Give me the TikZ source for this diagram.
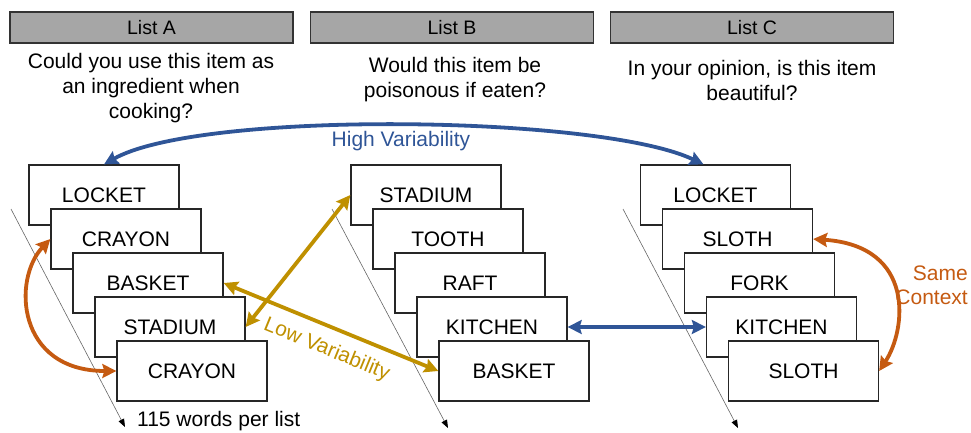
\documentclass[tikz,border=0pt]{standalone}
\usepackage{fontspec}
\setmainfont{Liberation Sans}
\usetikzlibrary{arrows.meta,positioning}
\definecolor{highvar}{RGB}{47,85,151}
\definecolor{lowvar}{RGB}{191,144,0}
\definecolor{samectx}{RGB}{197,90,17}
\definecolor{headgray}{RGB}{166,166,166}

\tikzset{
  listhead/.style={draw=black!80, line width=1.2pt, fill=headgray, minimum width=283pt,
    minimum height=31pt, inner sep=0pt, font=\fontsize{19.5}{22}\selectfont},
  question/.style={align=center, inner sep=0pt, font=\fontsize{21}{25}\selectfont},
  card/.style={draw=black!85, line width=1.3pt, fill=white, minimum width=150pt,
    minimum height=60pt, inner sep=0pt, font=\fontsize{21}{25}\selectfont},
  timeline/.style={draw=black!60, line width=0.6pt, -{Triangle[length=8pt,width=6pt,black]}},
  link/.style={line width=3.8pt, {Stealth[length=14pt,width=14pt,inset=2pt]}-{Stealth[length=14pt,width=14pt,inset=2pt]}},
  tag/.style={inner sep=0pt, font=\fontsize{21}{24}\selectfont}
}

\begin{document}
\begin{tikzpicture}[x=1pt,y=-1pt]
  \useasboundingbox (0,0) rectangle (971,432);
  % List headers
  \node[listhead] (headA) at (151.5,27.5) {List A};
  \node[listhead] (headB) at (452,27.5) {List B};
  \node[listhead] (headC) at (752,27.5) {List C};
  % Questions
  \node[question] (qA) at (151,88) {Could you use this item as\\an ingredient when\\cooking?};
  \node[question] (qB) at (455,80) {Would this item be\\poisonous if eaten?};
  \node[question] (qC) at (752,80) {In your opinion, is this item\\beautiful?};
  % Timelines
  \coordinate (tA0) at (11,209);  \coordinate (tA1) at (125,427);
  \coordinate (tB0) at (332,209); \coordinate (tB1) at (448,428);
  \coordinate (tC0) at (623,209); \coordinate (tC1) at (738,428);
  \draw[timeline] (tA0) -- (tA1);
  \draw[timeline] (tB0) -- (tB1);
  \draw[timeline] (tC0) -- (tC1);
  \node[tag, anchor=west] (perlist) at (137,421) {115 words per list};
  % Card stacks
  \foreach \w [count=\i] in {LOCKET,CRAYON,BASKET,STADIUM,CRAYON} {
    \pgfmathsetmacro{\cx}{104+22*(\i-1)}
    \pgfmathsetmacro{\cy}{195+44*(\i-1)}
    \node[card] (a\i) at (\cx,\cy) {\w};
  }
  \foreach \w [count=\i] in {STADIUM,TOOTH,RAFT,KITCHEN,BASKET} {
    \pgfmathsetmacro{\cx}{426+22*(\i-1)}
    \pgfmathsetmacro{\cy}{195+44*(\i-1)}
    \node[card] (b\i) at (\cx,\cy) {\w};
  }
  \foreach \w [count=\i] in {LOCKET,SLOTH,FORK,KITCHEN,SLOTH} {
    \pgfmathsetmacro{\cx}{715.5+22*(\i-1)}
    \pgfmathsetmacro{\cy}{195+44*(\i-1)}
    \node[card] (c\i) at (\cx,\cy) {\w};
  }
  % High variability
  \draw[link, highvar] (a1.north) .. controls (200,110) and (600,115) .. ([xshift=-12pt]c1.north)
    node[tag, pos=0.5, below=4pt] (hv) {High Variability};
  \draw[link, highvar] (b4.east) -- (c4.west);
  % Low variability
  \draw[link, lowvar] (a4.east) -- (b1.west);
  \draw[link, lowvar] (a3.east) -- node[tag, pos=0.52, sloped, below=11pt] (lv) {Low Variability} (b5.west);
  % Same context
  \draw[link, samectx] (a2.west) .. controls +(-38,40) and +(-100,0) .. (a5.west);
  \draw[link, samectx] (c2.east) .. controls +(103,7) and +(27,-41) .. (c5.east);
  \node[tag, align=right, anchor=east, text=samectx] (ctx) at (968,285) {Same\\Context};
\end{tikzpicture}
\end{document}
